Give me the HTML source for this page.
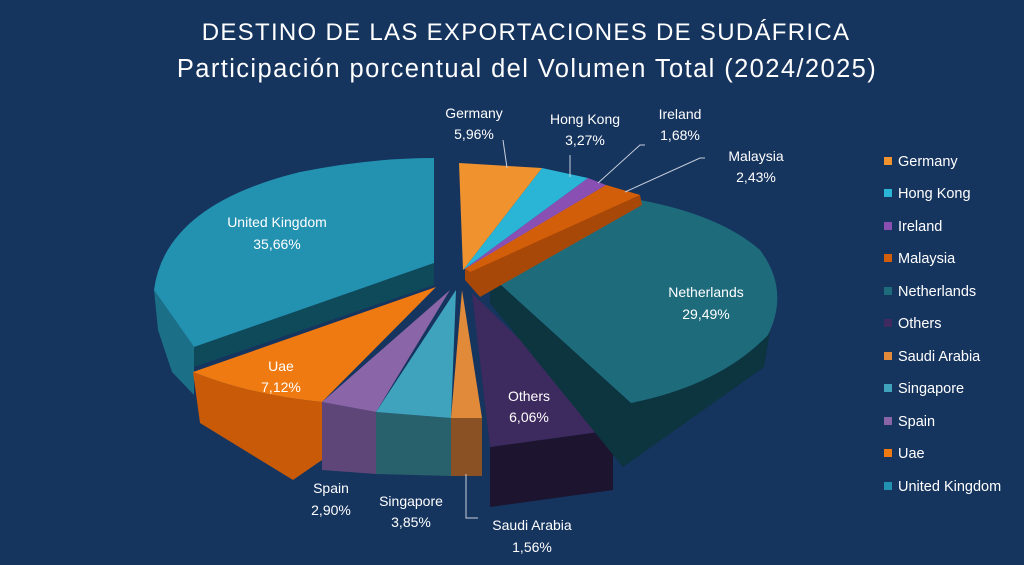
<!DOCTYPE html>
<html><head><meta charset="utf-8"><style>
body{margin:0;background:#15345e;}
svg{display:block;font-family:"Liberation Sans",sans-serif;}
</style></head><body>
<svg width="1024" height="565" viewBox="0 0 1024 565">
<rect width="1024" height="565" fill="#15345e"/>
<text x="526" y="40" text-anchor="middle" fill="#fff" font-size="24" letter-spacing="1.3">DESTINO DE LAS EXPORTACIONES  DE SUDÁFRICA</text>
<text x="527" y="77" text-anchor="middle" fill="#fff" font-size="25.5" letter-spacing="1.4">Participación porcentual del Volumen Total (2024/2025)</text>

<!-- UK -->
<path d="M154,290 L158,330 L172,372 L194,395 L194,367 L194,347 Z" fill="#1b6f86"/>
<path d="M434,263 L434,285 L194,367 L194,347 Z" fill="#0f4a5a"/>
<path d="M434,158 L434,263 L194,347 L154,290 Q165,205 300,172 Q370,158 434,158 Z" fill="#2391b0"/>
<!-- Uae -->
<path d="M193,372 L200,423 L293,480 L322,460 L322,402 Q250,395 193,372 Z" fill="#c85a08"/>
<path d="M436,287 L193,372 Q250,395 322,402 Z" fill="#f07a12"/>
<!-- Spain -->
<path d="M322,402 L322,470 L376,474 L376,412 Z" fill="#5f4678"/>
<path d="M450,290 L322,402 L376,412 Z" fill="#8a65a8"/>
<!-- Singapore -->
<path d="M376,412 L376,474 L451,476 L451,418 Z" fill="#28606c"/>
<path d="M456,290 L376,412 L451,418 Z" fill="#3fa3bd"/>
<!-- Saudi -->
<path d="M451,418 L451,476 L482,476 L482,418 Z" fill="#8a5125"/>
<path d="M462,290 L451,418 L482,418 Z" fill="#e08a3a"/>
<!-- Others -->
<path d="M490,447 L490,507 L613,490 L613,430 Z" fill="#1d1430"/>
<path d="M472,293 L490,447 L613,430 Z" fill="#3d2a5e"/>
<!-- Netherlands -->
<path d="M490,275 L490,303 L623,467 L764,367 L777,290 L631,403 Z" fill="#0c353f"/>
<path d="M490,275 L640,200 Q720,215 760,250 Q790,290 768,335 Q720,385 631,403 Z" fill="#1e6b7c"/>
<!-- Malaysia -->
<path d="M465,268 L606,185 L640,195 L642,205 L480,297 L465,280 Z" fill="#a84808"/>
<path d="M465,268 L606,185 L640,195 L470,272 Z" fill="#d35e0a"/>
<!-- Ireland -->
<path d="M463,270 L588,178 L606,185 Z" fill="#8a4fb3"/>
<!-- HK -->
<path d="M463,270 L542,168 L588,178 Z" fill="#2ab4d6"/>
<!-- Germany -->
<path d="M463,270 L459,163 L542,168 Z" fill="#f0922e"/>

<!-- leader lines -->
<g stroke="#c8d0dc" stroke-width="1" fill="none">
<path d="M503,140 L507,168"/>
<path d="M570,155 L570,177"/>
<path d="M645,145 L640,145 L598,183"/>
<path d="M705,158 L700,158 L625,192"/>
<path d="M466,474 L466,518 L478,518"/>
</g>

<g fill="#fff" font-size="14" text-anchor="middle">
<text x="474" y="118">Germany</text><text x="474" y="139">5,96%</text>
<text x="585" y="124">Hong Kong</text><text x="585" y="145">3,27%</text>
<text x="680" y="119">Ireland</text><text x="680" y="140">1,68%</text>
<text x="756" y="161">Malaysia</text><text x="756" y="182">2,43%</text>
<text x="277" y="227">United Kingdom</text><text x="277" y="249">35,66%</text>
<text x="706" y="297">Netherlands</text><text x="706" y="319">29,49%</text>
<text x="281" y="371">Uae</text><text x="281" y="392">7,12%</text>
<text x="529" y="401">Others</text><text x="529" y="422">6,06%</text>
<text x="331" y="493">Spain</text><text x="331" y="515">2,90%</text>
<text x="411" y="506">Singapore</text><text x="411" y="527">3,85%</text>
<text x="532" y="530">Saudi Arabia</text><text x="532" y="552">1,56%</text>
</g>

<g font-size="14.5" fill="#fff">
<rect x="884" y="157" width="8" height="8" fill="#f0922e"/><text x="898" y="166">Germany</text>
<rect x="884" y="189" width="8" height="8" fill="#2ab4d6"/><text x="898" y="198">Hong Kong</text>
<rect x="884" y="222" width="8" height="8" fill="#8a4fb3"/><text x="898" y="231">Ireland</text>
<rect x="884" y="254" width="8" height="8" fill="#d35e0a"/><text x="898" y="263">Malaysia</text>
<rect x="884" y="287" width="8" height="8" fill="#1e6b7c"/><text x="898" y="296">Netherlands</text>
<rect x="884" y="319" width="8" height="8" fill="#3d2a5e"/><text x="898" y="328">Others</text>
<rect x="884" y="352" width="8" height="8" fill="#e08a3a"/><text x="898" y="361">Saudi Arabia</text>
<rect x="884" y="384" width="8" height="8" fill="#3fa3bd"/><text x="898" y="393">Singapore</text>
<rect x="884" y="417" width="8" height="8" fill="#8a65a8"/><text x="898" y="426">Spain</text>
<rect x="884" y="449" width="8" height="8" fill="#f07a12"/><text x="898" y="458">Uae</text>
<rect x="884" y="482" width="8" height="8" fill="#2391b0"/><text x="898" y="491">United Kingdom</text>
</g>
</svg>
</body></html>
